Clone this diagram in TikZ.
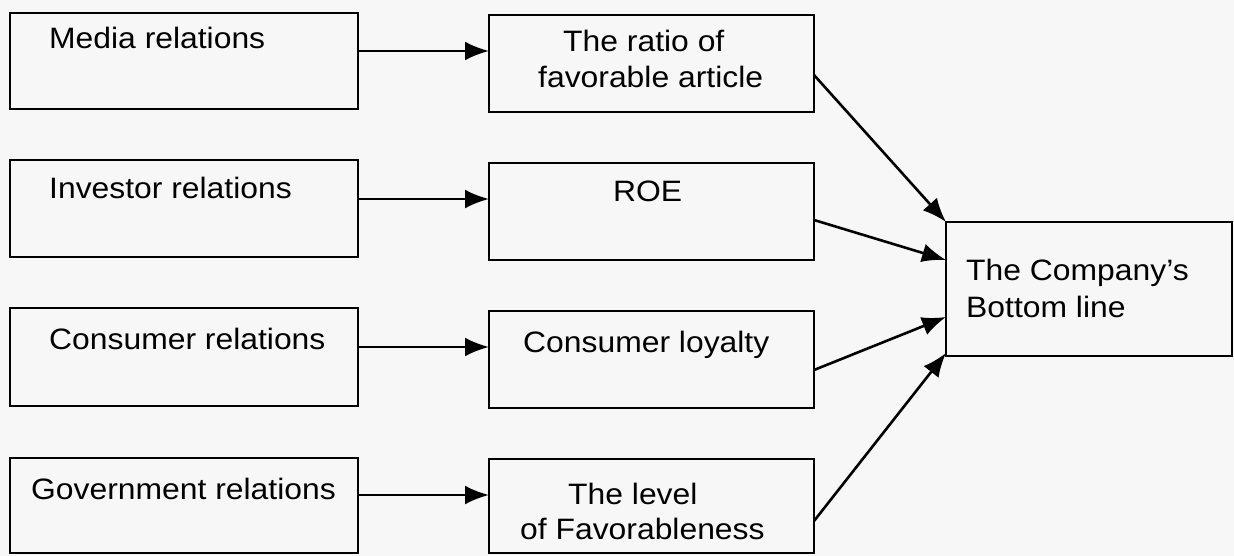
\documentclass[tikz,border=0pt]{standalone}
\usepackage{fontspec}
\setmainfont{Liberation Sans}[FakeStretch=1.08]
\usetikzlibrary{arrows.meta}
\begin{document}
\begin{tikzpicture}[x=1pt,y=-1pt,
  box/.style={draw=black, line width=2.8pt, rectangle, inner sep=0pt, outer sep=0pt},
  lbl/.style={anchor=base west, inner sep=0pt, font=\fontsize{29.5}{36}\selectfont, text=black},
  link/.style={draw=black, line width=2.6pt, -{Latex[length=24pt,width=19pt]}}]
  % page
  \fill[black!3] (0,0) rectangle (1234,556);
  \useasboundingbox (0,0) rectangle (1234,556);

  % left column: relations
  \node[box, minimum width=348pt, minimum height=96pt] (r1) at (184,61) {};
  \node[box, minimum width=348pt, minimum height=97pt] (r2) at (184,208.5) {};
  \node[box, minimum width=348pt, minimum height=98pt] (r3) at (184,357) {};
  \node[box, minimum width=348pt, minimum height=95pt] (r4) at (184,505.5) {};
  \node[lbl] (t1) at (49,49) {Media relations};
  \node[lbl] (t2) at (49,199) {Investor relations};
  \node[lbl] (t3) at (49,349) {Consumer relations};
  \node[lbl] (t4) at (31,499) {Government relations};

  % middle column: measures
  \node[box, minimum width=325pt, minimum height=97pt] (m1) at (651.5,63.5) {};
  \node[box, minimum width=325pt, minimum height=97pt] (m2) at (651.5,211.5) {};
  \node[box, minimum width=325pt, minimum height=97pt] (m3) at (651.5,359.5) {};
  \node[box, minimum width=325pt, minimum height=94pt] (m4) at (651.5,506) {};
  \node[lbl] (u1a) at (563,52) {The ratio of};
  \node[lbl] (u1b) at (538,88) {favorable article};
  \node[lbl] (u2) at (613,202) {ROE};
  \node[lbl] (u3) at (523,352) {Consumer loyalty};
  \node[lbl] (u4a) at (568,504) {The level};
  \node[lbl] (u4b) at (520,539) {of Favorableness};

  % right: outcome
  \node[box, minimum width=286pt, minimum height=134pt] (b) at (1089,289) {};
  \node[lbl] (v1) at (966,280) {The Company’s};
  \node[lbl] (v2) at (966,317) {Bottom line};

  % horizontal links
  \draw[link] (r1.east |- 0,51) -- (m1.west |- 0,51);
  \draw[link] (r2.east |- 0,199) -- (m2.west |- 0,199);
  \draw[link] (r3.east |- 0,347) -- (m3.west |- 0,347);
  \draw[link] (r4.east |- 0,495) -- (m4.west |- 0,495);

  % links into the outcome
  \draw[link] (m1.east |- 0,75) -- (b.north west);
  \draw[link] (m2.east |- 0,220) -- (b.west |- 0,260);
  \draw[link] (m3.east |- 0,370) -- (b.west |- 0,317);
  \draw[link] (m4.east |- 0,521) -- (b.west |- 0,353);
\end{tikzpicture}
\end{document}
